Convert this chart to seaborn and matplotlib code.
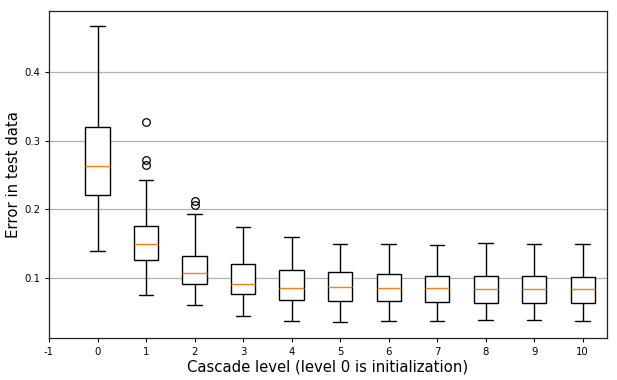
import matplotlib
matplotlib.use("Agg")
import matplotlib.pyplot as plt
import seaborn as sns
import pandas as pd

# Box statistics, per cascade level
levels = [0, 1, 2, 3, 4, 5, 6, 7, 8, 9, 10]
whisker_low = [0.139, 0.0752, 0.0607, 0.0447, 0.0374, 0.0359, 0.0374, 0.0374, 0.0388, 0.0388, 0.0374]
q1 = [0.2213, 0.1262, 0.0907, 0.0767, 0.0680, 0.0665, 0.0665, 0.0650, 0.0636, 0.0636, 0.0636]
median = [0.2635, 0.1495, 0.1073, 0.0913, 0.0854, 0.0873, 0.0854, 0.0854, 0.0840, 0.0840, 0.0840]
q3 = [0.3200, 0.1757, 0.1322, 0.1204, 0.1117, 0.1087, 0.1058, 0.1030, 0.1030, 0.1030, 0.1015]
whisker_high = [0.467, 0.2427, 0.1932, 0.1737, 0.1597, 0.1495, 0.1495, 0.1480, 0.1510, 0.1495, 0.1495]
outliers = [[], [0.2640, 0.2713, 0.3270], [0.2057, 0.2115], [], [], [], [], [], [], [], []]

tick_positions = list(range(-1, 11))
tick_labels = [str(t) for t in tick_positions]

# Build samples whose quartiles/whiskers reproduce the read statistics
rows = []
for i, lvl in enumerate(levels):
    top = [whisker_high[i]] * (4 - len(outliers[i])) + outliers[i]
    vals = [whisker_low[i]] + [q1[i]] * 4 + [median[i]] * 4 + [q3[i]] * 4 + top
    rows += [(lvl, v) for v in vals]
df = pd.DataFrame(rows, columns=["level", "error"])

sns.set_style("white")
fig = plt.figure(figsize=(6.17, 3.80), dpi=100)
ax = fig.add_axes([0.0794, 0.1105, 0.9044, 0.8605])

sns.boxplot(data=df, x="level", y="error", order=levels, ax=ax,
            color="white", linecolor="black", linewidth=1.0, width=0.5,
            whis=1.5,
            medianprops={"color": "#ff7f0e", "linewidth": 1.0},
            flierprops={"marker": "o", "markerfacecolor": "none",
                        "markeredgecolor": "black", "markersize": 5.5,
                        "markeredgewidth": 0.9})

# widen caps a bit to match the reference
for line in ax.lines:
    xd = list(line.get_xdata())
    yd = list(line.get_ydata())
    if len(xd) == 2 and yd[0] == yd[1] and xd[0] != xd[1]:
        c = (xd[0] + xd[1]) / 2
        half = abs(xd[1] - xd[0]) / 2
        if half < 0.2:
            line.set_xdata([c - 0.15, c + 0.15])

ax.set_xlim(-1, 10.5)
ax.set_ylim(0.0127, 0.4888)
ax.set_xticks(tick_positions)
ax.set_xticklabels(tick_labels)
ax.set_yticks([0.1, 0.2, 0.3, 0.4])
ax.set_yticklabels(["0.1", "0.2", "0.3", "0.4"])
ax.yaxis.grid(True, color="#b0b0b0", linewidth=0.9)
ax.xaxis.grid(False)
ax.set_axisbelow(True)
ax.tick_params(axis="both", which="major", direction="out", length=3,
               width=0.8, labelsize=7.3, color="black", labelcolor="black",
               bottom=True, left=True)
for s in ax.spines.values():
    s.set_color("#222222")
    s.set_linewidth(0.9)
ax.set_xlabel("Cascade level (level 0 is initialization)", fontsize=10.7,
              color="black", labelpad=2)
ax.set_ylabel("Error in test data", fontsize=10.7, color="black", labelpad=2)

fig.savefig("out.png", dpi=100, facecolor="white")
